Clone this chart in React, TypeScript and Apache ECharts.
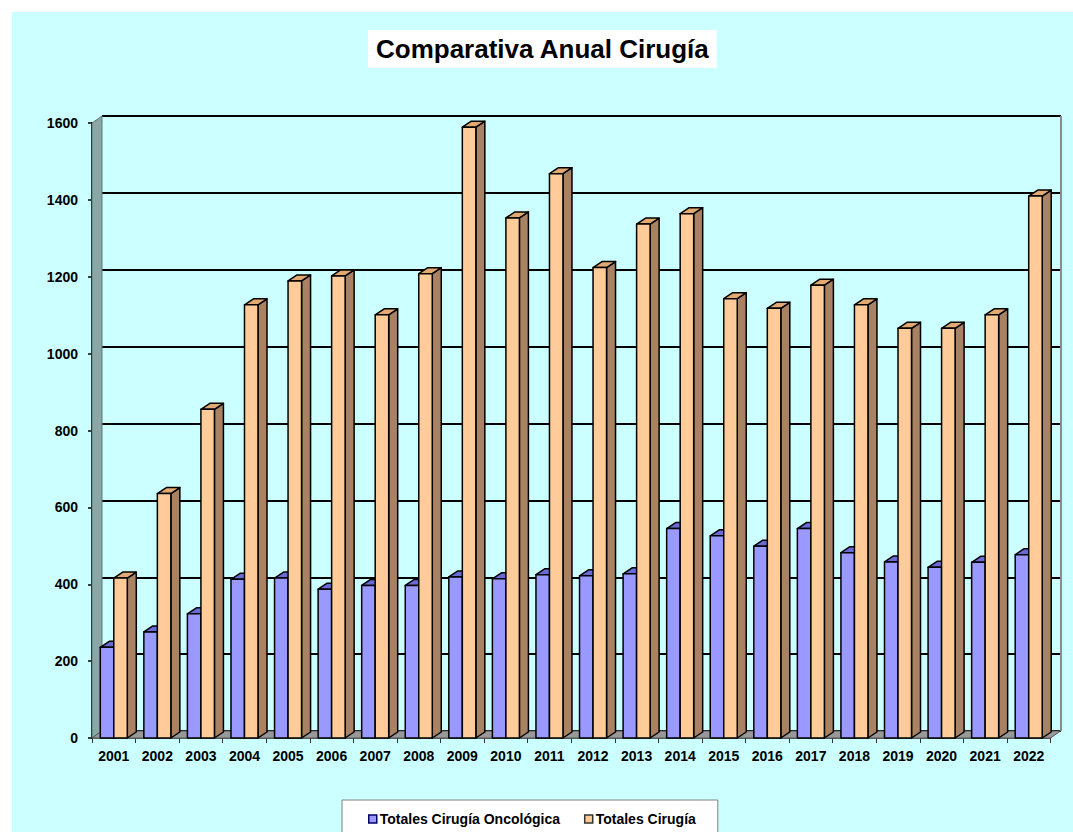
import React, { useEffect, useRef } from "react";
import * as echarts from "echarts";

const years = ["2001","2002","2003","2004","2005","2006","2007","2008","2009","2010","2011","2012","2013","2014","2015","2016","2017","2018","2019","2020","2021","2022"];
const oncologica = [236,276,323,413,416,387,397,397,419,414,425,422,427,545,526,499,545,482,458,444,457,477];
const totales = [416,636,855,1127,1189,1202,1101,1208,1589,1353,1468,1224,1337,1364,1143,1118,1178,1127,1066,1066,1101,1410];
const seriesNames = ["Totales Cirugía Oncológica", "Totales Cirugía"];
const yTicks = [0, 200, 400, 600, 800, 1000, 1200, 1400, 1600];

const FONT = "'Liberation Sans', Arial, sans-serif";
const DX = 9;
const DY = -6;

function makeRender(side: number, front: string, top: string, sideColor: string) {
  return (params: any, api: any) => {
    const idx = api.value(0);
    const v = api.value(1);
    const pt = api.coord([idx, v]);
    const base = api.coord([idx, 0]);
    const band = api.size([1, 0])[0];
    const w = band * 0.31;
    const cx = pt[0];
    const l = side === 0 ? cx - w : cx;
    const yt = pt[1];
    const yb = base[1];
    const stroke = { stroke: "#000", lineWidth: 1.5, lineJoin: "round" };
    return {
      type: "group",
      children: [
        {
          type: "polygon",
          shape: { points: [[l + w, yt], [l + w + DX, yt + DY], [l + w + DX, yb + DY], [l + w, yb]] },
          style: { fill: sideColor, ...stroke },
        },
        {
          type: "polygon",
          shape: { points: [[l, yt], [l + w, yt], [l + w + DX, yt + DY], [l + DX, yt + DY]] },
          style: { fill: top, ...stroke },
        },
        {
          type: "rect",
          shape: { x: l, y: yt, width: w, height: yb - yt },
          style: { fill: front, ...stroke },
        },
      ],
    };
  };
}

export default function App() {
  const ref = useRef<HTMLDivElement>(null);
  useEffect(() => {
    document.body.style.margin = "0";
    if (!ref.current) return;
    const chart = echarts.init(ref.current, undefined, { renderer: "svg" });
    const option: any = {
      animation: false,
      backgroundColor: "transparent",
      title: {
        text: "Comparativa Anual Cirugía",
        left: 368,
        top: 30,
        backgroundColor: "#ffffff",
        padding: [6, 7, 6, 8],
        textStyle: { fontFamily: FONT, fontWeight: "bold", fontSize: 26, color: "#000", lineHeight: 26 },
      },
      legend: {
        left: 342,
        top: 800,
        backgroundColor: "#ffffff",
        borderColor: "#808080",
        borderWidth: 1,
        padding: [12, 22, 20, 26],
        itemWidth: 8,
        itemHeight: 8,
        itemGap: 24,
        textStyle: { fontFamily: FONT, fontWeight: "bold", fontSize: 14, color: "#000", padding: [0, 0, 0, -2] },
        data: [
          { name: seriesNames[0], icon: "rect", itemStyle: { color: "#9999FF", borderColor: "#000066", borderWidth: 1.5 } },
          { name: seriesNames[1], icon: "rect", itemStyle: { color: "#FFCC99", borderColor: "#333", borderWidth: 1.5 } },
        ],
      },
      grid: [
        { left: 92, right: 1073 - 1050.5, top: 123, bottom: 832 - 738 },
        { left: 102, right: 1073 - 1061, top: 116, bottom: 832 - 731 },
      ],
      xAxis: [
        {
          gridIndex: 0,
          type: "category",
          data: years,
          boundaryGap: true,
          axisLine: { show: true, lineStyle: { color: "#333", width: 1.5 } },
          axisTick: { show: true, length: 5, lineStyle: { color: "#333", width: 1 } },
          axisLabel: { fontFamily: FONT, fontWeight: "bold", fontSize: 14, color: "#000", margin: 11 },
          splitLine: { show: false },
        },
        {
          gridIndex: 1,
          type: "category",
          data: years,
          show: false,
        },
      ],
      yAxis: [
        {
          gridIndex: 0,
          type: "value",
          min: yTicks[0],
          max: yTicks[yTicks.length - 1],
          interval: 200,
          axisLine: { show: true, lineStyle: { color: "#000", width: 2 } },
          axisTick: { show: true, length: 4, lineStyle: { color: "#000", width: 1.5 } },
          axisLabel: {
            fontFamily: FONT, fontWeight: "bold", fontSize: 14, color: "#000", margin: 14,
            formatter: (v: number) => String(v),
          },
          splitLine: { show: false },
        },
        {
          gridIndex: 1,
          type: "value",
          min: yTicks[0],
          max: yTicks[yTicks.length - 1],
          interval: 200,
          axisLine: { show: false },
          axisTick: { show: false },
          axisLabel: { show: false },
          splitLine: { show: true, lineStyle: { color: "#000", width: 2 } },
        },
      ],
      graphic: [
        {
          type: "polygon",
          z: 1,
          shape: { points: [[92, 123], [102, 116], [102, 731], [92, 738]] },
          style: { fill: "#8AA6A6", stroke: "#5f7777", lineWidth: 1 },
        },
        {
          type: "polygon",
          z: 1,
          shape: { points: [[92, 738], [1050.5, 738], [1060.5, 731], [102, 731]] },
          style: { fill: "#999999", stroke: "#555", lineWidth: 1 },
        },
        {
          type: "line",
          z: 1,
          shape: { x1: 1061, y1: 116, x2: 1061, y2: 731 },
          style: { stroke: "#8a8a8a", lineWidth: 2 },
        },
      ],
      series: [
        {
          name: seriesNames[0],
          type: "custom",
          xAxisIndex: 0,
          yAxisIndex: 0,
          z: 3,
          itemStyle: { color: "#9999FF" },
          renderItem: makeRender(0, "#9999FF", "#6A6AD6", "#5555AA"),
          encode: { x: 0, y: 1 },
          data: oncologica.map((v, i) => [i, v]),
        },
        {
          name: seriesNames[1],
          type: "custom",
          xAxisIndex: 0,
          yAxisIndex: 0,
          z: 4,
          itemStyle: { color: "#FFCC99" },
          renderItem: makeRender(1, "#FFCC99", "#E2AA72", "#A88262"),
          encode: { x: 0, y: 1 },
          data: totales.map((v, i) => [i, v]),
        },
      ],
    };
    chart.setOption(option);
    return () => chart.dispose();
  }, []);
  return (
    <div style={{ position: "fixed", left: 0, top: 0, width: 1073, height: 832, background: "#ffffff", overflow: "hidden" }}>
      <div style={{ position: "absolute", left: 12, top: 12, right: 0, bottom: 0, background: "#CCFFFF" }} />
      <div ref={ref} style={{ position: "absolute", left: 0, top: 0, width: 1073, height: 832 }} />
    </div>
  );
}
